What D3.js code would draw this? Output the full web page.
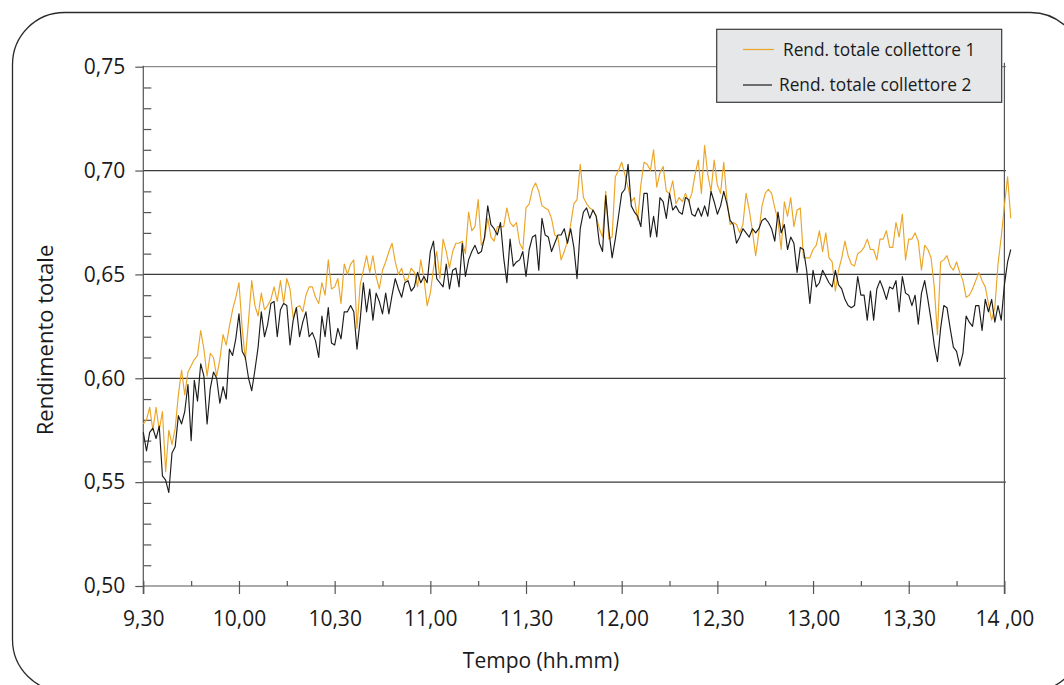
<!DOCTYPE html>
<html>
<head>
<meta charset="utf-8">
<script src="https://cdn.jsdelivr.net/npm/d3@7"></script>
<style>
  html, body { margin: 0; padding: 0; background: #fff; }
  svg { display: block; font-family: "Open Sans", "Noto Sans", sans-serif; }
</style>
</head>
<body>
<div id="chart"></div>
<script>
// sampled once a minute from 9,30 (minute 0) to a bit past 14,00
const rend1 = [
  0.578, 0.580, 0.586, 0.575, 0.586, 0.575, 0.584, 0.555, 0.575, 0.568,
  0.576, 0.592, 0.604, 0.592, 0.603, 0.606, 0.609, 0.611, 0.623, 0.614,
  0.601, 0.612, 0.610, 0.601, 0.609, 0.621, 0.616, 0.625, 0.633, 0.639,
  0.646, 0.624, 0.609, 0.628, 0.647, 0.635, 0.630, 0.641, 0.633, 0.635,
  0.638, 0.644, 0.637, 0.647, 0.636, 0.648, 0.643, 0.629, 0.634, 0.635,
  0.632, 0.640, 0.644, 0.644, 0.639, 0.636, 0.646, 0.640, 0.657, 0.643,
  0.644, 0.648, 0.636, 0.655, 0.650, 0.655, 0.657, 0.624, 0.645, 0.652,
  0.659, 0.651, 0.659, 0.649, 0.643, 0.652, 0.656, 0.661, 0.665, 0.656,
  0.650, 0.653, 0.647, 0.648, 0.653, 0.651, 0.644, 0.657, 0.648, 0.635,
  0.641, 0.653, 0.661, 0.648, 0.667, 0.661, 0.653, 0.661, 0.665, 0.665,
  0.666, 0.660, 0.680, 0.671, 0.673, 0.686, 0.664, 0.667, 0.677, 0.668,
  0.666, 0.673, 0.673, 0.673, 0.682, 0.675, 0.673, 0.675, 0.665, 0.662,
  0.682, 0.684, 0.691, 0.694, 0.690, 0.683, 0.682, 0.681, 0.677, 0.669,
  0.668, 0.657, 0.661, 0.666, 0.674, 0.684, 0.686, 0.703, 0.687, 0.684,
  0.682, 0.681, 0.678, 0.672, 0.668, 0.690, 0.667, 0.668, 0.697, 0.700,
  0.704, 0.698, 0.692, 0.685, 0.687, 0.676, 0.693, 0.704, 0.703, 0.700,
  0.710, 0.692, 0.699, 0.702, 0.690, 0.689, 0.695, 0.684, 0.687, 0.685,
  0.689, 0.685, 0.689, 0.698, 0.705, 0.689, 0.712, 0.698, 0.690, 0.705,
  0.693, 0.689, 0.704, 0.686, 0.674, 0.675, 0.674, 0.670, 0.674, 0.689,
  0.681, 0.671, 0.659, 0.670, 0.683, 0.689, 0.691, 0.689, 0.682, 0.676,
  0.662, 0.685, 0.678, 0.687, 0.673, 0.681, 0.682, 0.658, 0.658, 0.658,
  0.662, 0.664, 0.671, 0.661, 0.670, 0.658, 0.656, 0.642, 0.652, 0.658,
  0.666, 0.659, 0.655, 0.654, 0.660, 0.661, 0.663, 0.667, 0.662, 0.662,
  0.657, 0.667, 0.667, 0.671, 0.663, 0.663, 0.675, 0.668, 0.679, 0.657,
  0.667, 0.667, 0.670, 0.666, 0.652, 0.664, 0.662, 0.658, 0.644, 0.621,
  0.656, 0.657, 0.659, 0.654, 0.652, 0.656, 0.651, 0.647, 0.639, 0.640,
  0.643, 0.647, 0.651, 0.647, 0.644, 0.636, 0.628, 0.634, 0.655, 0.668,
  0.683, 0.697, 0.677
];
const rend2 = [
  0.574, 0.565, 0.574, 0.576, 0.571, 0.577, 0.553, 0.551, 0.545, 0.564,
  0.567, 0.582, 0.578, 0.584, 0.597, 0.570, 0.599, 0.589, 0.607, 0.601,
  0.578, 0.595, 0.603, 0.600, 0.588, 0.596, 0.590, 0.614, 0.611, 0.619,
  0.631, 0.613, 0.610, 0.600, 0.594, 0.604, 0.615, 0.632, 0.620, 0.626,
  0.636, 0.637, 0.620, 0.633, 0.636, 0.635, 0.616, 0.628, 0.634, 0.620,
  0.627, 0.632, 0.620, 0.622, 0.618, 0.610, 0.630, 0.620, 0.634, 0.617,
  0.616, 0.624, 0.619, 0.632, 0.632, 0.635, 0.632, 0.614, 0.628, 0.646,
  0.632, 0.643, 0.628, 0.641, 0.637, 0.631, 0.641, 0.631, 0.640, 0.648,
  0.643, 0.639, 0.646, 0.647, 0.642, 0.644, 0.651, 0.646, 0.649, 0.646,
  0.661, 0.666, 0.648, 0.646, 0.644, 0.655, 0.643, 0.652, 0.653, 0.644,
  0.665, 0.649, 0.657, 0.661, 0.664, 0.660, 0.661, 0.668, 0.683, 0.674,
  0.672, 0.669, 0.675, 0.658, 0.646, 0.667, 0.654, 0.656, 0.657, 0.661,
  0.649, 0.662, 0.668, 0.669, 0.652, 0.677, 0.669, 0.668, 0.661, 0.665,
  0.669, 0.669, 0.672, 0.665, 0.672, 0.663, 0.648, 0.672, 0.680, 0.682,
  0.677, 0.681, 0.678, 0.665, 0.661, 0.688, 0.671, 0.658, 0.667, 0.678,
  0.689, 0.691, 0.703, 0.683, 0.680, 0.678, 0.673, 0.689, 0.689, 0.668,
  0.678, 0.668, 0.687, 0.685, 0.677, 0.689, 0.681, 0.683, 0.680, 0.679,
  0.687, 0.686, 0.679, 0.678, 0.682, 0.678, 0.683, 0.678, 0.690, 0.685,
  0.679, 0.683, 0.690, 0.684, 0.676, 0.674, 0.665, 0.668, 0.672, 0.670,
  0.668, 0.672, 0.670, 0.672, 0.676, 0.677, 0.675, 0.672, 0.666, 0.680,
  0.670, 0.674, 0.662, 0.668, 0.665, 0.651, 0.663, 0.662, 0.652, 0.636,
  0.652, 0.644, 0.646, 0.652, 0.649, 0.646, 0.644, 0.652, 0.645, 0.643,
  0.638, 0.635, 0.634, 0.635, 0.649, 0.640, 0.640, 0.628, 0.642, 0.628,
  0.643, 0.647, 0.643, 0.638, 0.644, 0.643, 0.647, 0.632, 0.649, 0.641,
  0.640, 0.635, 0.640, 0.626, 0.641, 0.647, 0.638, 0.628, 0.616, 0.608,
  0.624, 0.635, 0.634, 0.624, 0.615, 0.613, 0.606, 0.612, 0.630, 0.627,
  0.625, 0.635, 0.635, 0.623, 0.638, 0.632, 0.638, 0.627, 0.635, 0.628,
  0.645, 0.656, 0.662
];
const seriesNames = ["Rend. totale collettore 1", "Rend. totale collettore 2"];
const seriesColors = ["#eba526", "#1c1c1c"];
const xTickMinutes = [0, 30, 60, 90, 120, 150, 180, 210, 240, 270];
const xTickLabels = ["9,30", "10,00", "10,30", "11,00", "11,30", "12,00", "12,30", "13,00", "13,30", "14 ,00"];
const yTicks = [0.50, 0.55, 0.60, 0.65, 0.70, 0.75];

const W = 1064, H = 685;
const svg = d3.select("#chart").append("svg")
  .attr("width", W).attr("height", H);

svg.append("rect").attr("width", W).attr("height", H).attr("fill", "#fff");

// rounded frame, running off the right and bottom edges
svg.append("rect")
  .attr("x", 12.5).attr("y", 12.5)
  .attr("width", 1070).attr("height", 679)
  .attr("rx", 52).attr("ry", 52)
  .attr("fill", "none").attr("stroke", "#2a2a2a").attr("stroke-width", 1.3);

const x = d3.scaleLinear().domain([0, 270]).range([143.3, 1004.4]);
const y = d3.scaleLinear().domain([0.5, 0.75]).range([586, 66.7]);

const axisColor = "#555";
const textColor = "#1a1a1a";

// horizontal grid lines
svg.append("g").selectAll("line")
  .data(yTicks.slice(1))
  .enter().append("line")
    .attr("x1", x(0)).attr("x2", x(270) + 1.5)
    .attr("y1", d => y(d)).attr("y2", d => y(d))
    .attr("stroke", d => d === 0.75 ? "#8a8a8a" : "#3a3a3a")
    .attr("stroke-width", 1.2);

// y axis: majors to the left with labels, minors to the right
const yMinor = d3.range(50, 76).map(d => d / 100).filter(d => Math.round(d * 100) % 5 !== 0);
const yAxis = svg.append("g")
  .attr("transform", `translate(${x(0)},0)`)
  .call(d3.axisLeft(y).tickValues(yTicks).tickSize(8).tickPadding(10)
    .tickFormat(d => d3.format(".2f")(d).replace(".", ",")));
yAxis.select(".domain").remove();
svg.append("g")
  .attr("transform", `translate(${x(0)},0)`)
  .call(d3.axisRight(y).tickValues(yMinor).tickSize(8).tickFormat(""))
  .select(".domain").remove();

// x axis
const xMinor = [15, 45, 75, 105, 135, 165, 195, 225, 255];
const xAxis = svg.append("g")
  .attr("transform", `translate(0,${y(0.5)})`)
  .call(d3.axisBottom(x).tickValues(xTickMinutes).tickSize(8).tickPadding(17)
    .tickFormat((d, i) => xTickLabels[i]));
xAxis.select(".domain").remove();
xAxis.selectAll(".tick line").attr("y1", -5);
svg.append("g")
  .attr("transform", `translate(0,${y(0.5)})`)
  .call(d3.axisTop(x).tickValues(xMinor).tickSize(5).tickFormat(""))
  .select(".domain").remove();

// axis lines
svg.append("line")
  .attr("x1", x(0)).attr("x2", x(0)).attr("y1", y(0.75) - 1).attr("y2", y(0.5) + 8);
svg.append("line")
  .attr("x1", x(0)).attr("x2", x(270)).attr("y1", y(0.5)).attr("y2", y(0.5));
svg.append("line")
  .attr("x1", x(270)).attr("x2", x(270)).attr("y1", y(0.75) - 4).attr("y2", y(0.5) + 8);

svg.selectAll("line").filter(function () { return !this.getAttribute("stroke"); })
  .attr("stroke", axisColor).attr("stroke-width", 1.2);
svg.selectAll(".tick line").attr("stroke", axisColor).attr("stroke-width", 1.2);
svg.selectAll(".tick text")
  .attr("fill", textColor).style("font-size", "21px")
  .style("font-family", "'Open Sans', 'Noto Sans', sans-serif");

// series
const line = d3.line()
  .x((d, i) => x(i))
  .y(d => y(d));

[rend1, rend2].forEach((s, k) => {
  svg.append("path")
    .datum(s)
    .attr("d", line)
    .attr("fill", "none")
    .attr("stroke", seriesColors[k])
    .attr("stroke-width", 1.15)
    .attr("stroke-linejoin", "round");
});

// legend
const lg = svg.append("g");
lg.append("rect")
  .attr("x", 716.7).attr("y", 29.3).attr("width", 285).attr("height", 73)
  .attr("fill", "#e6e7e8").attr("stroke", "#3a3a3a").attr("stroke-width", 1.2);
const legendRows = [
  { y: 49.5, x1: 743, x2: 774, tx: 783 },
  { y: 85, x1: 743, x2: 772, tx: 779 }
];
legendRows.forEach((r, k) => {
  lg.append("line")
    .attr("x1", r.x1).attr("x2", r.x2).attr("y1", r.y).attr("y2", r.y)
    .attr("stroke", seriesColors[k]).attr("stroke-width", 1.2);
  lg.append("text")
    .attr("x", r.tx).attr("y", r.y + 6)
    .attr("fill", textColor).style("font-size", "17.3px")
    .text(seriesNames[k]);
});

// axis titles
svg.append("text")
  .attr("x", 541).attr("y", 668)
  .attr("text-anchor", "middle")
  .attr("fill", textColor).style("font-size", "21px")
  .text("Tempo (hh.mm)");

svg.append("text")
  .attr("transform", "translate(53,340) rotate(-90)")
  .attr("text-anchor", "middle")
  .attr("fill", textColor).style("font-size", "22px")
  .text("Rendimento totale");
</script>
</body>
</html>
